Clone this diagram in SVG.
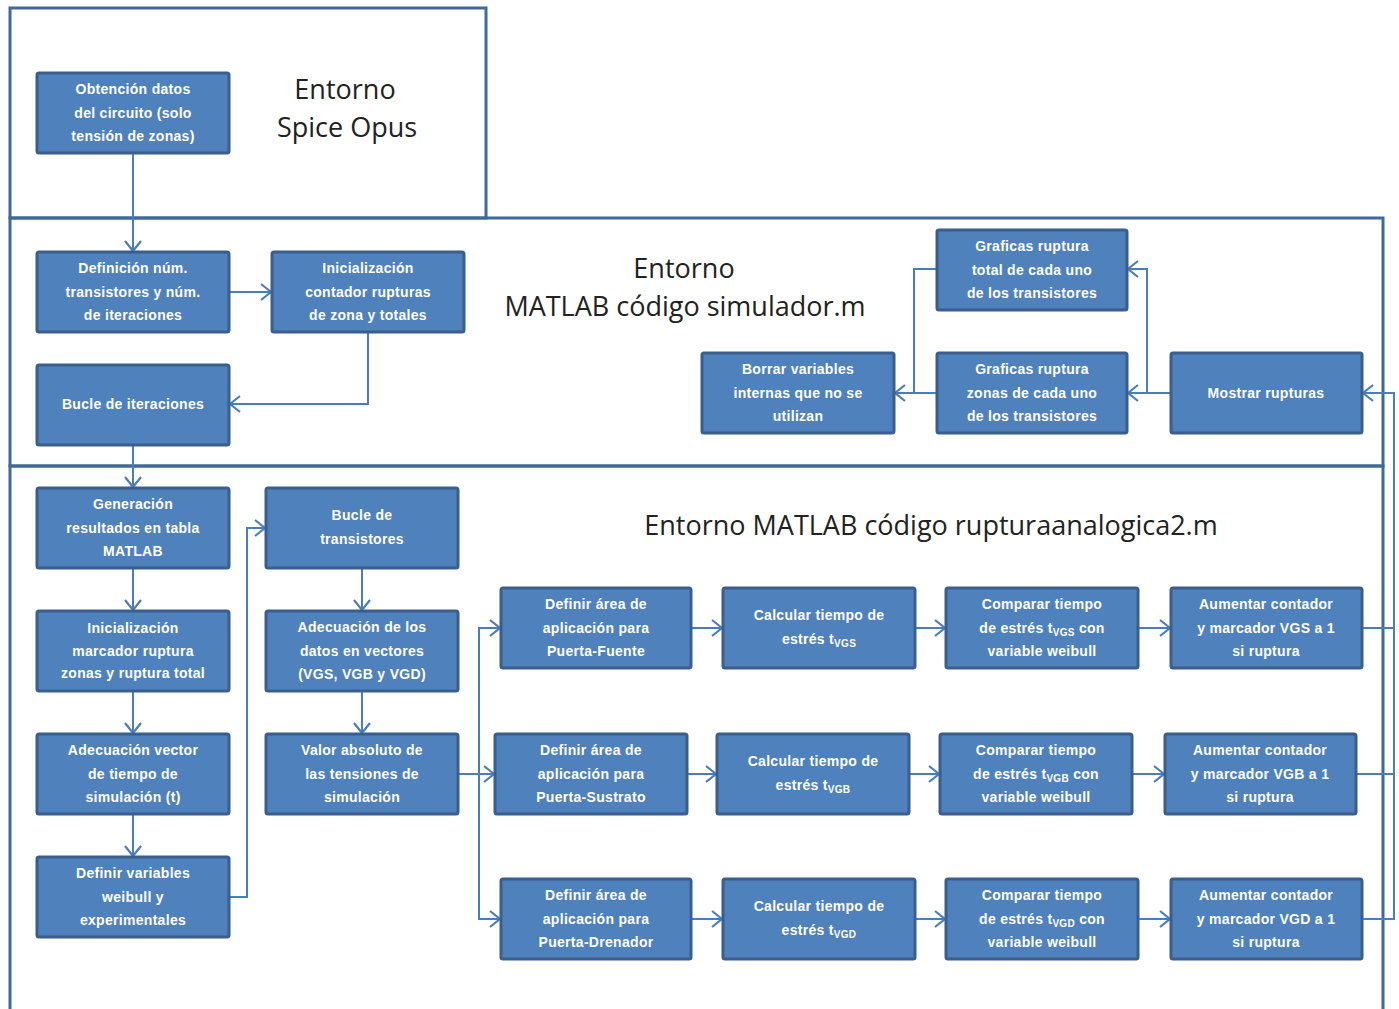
<svg xmlns="http://www.w3.org/2000/svg" width="1399" height="1009" viewBox="0 0 1399 1009">
<defs>
<marker id="ah" markerUnits="userSpaceOnUse" markerWidth="14" markerHeight="20" refX="11" refY="9" orient="auto">
<path d="M1,1 L11,9 L1,17" fill="none" stroke="#4a7ebb" stroke-width="2.2"/>
</marker>
<style>
.frame{fill:none;stroke:#41689a;stroke-width:3}
.box{fill:#4f81bd;stroke:#3a5f8e;stroke-width:3}
.c{fill:none;stroke:#4a7ebb;stroke-width:2}
.a{marker-end:url(#ah)}
.t{fill:#ffffff;font-family:"Liberation Sans",Arial,sans-serif;font-size:14px;font-weight:bold;text-anchor:middle;letter-spacing:0.3px}
.s{font-size:10px}
.h{fill:#222222;font-family:"Open Sans","Liberation Sans",sans-serif;font-size:27px;text-anchor:middle}
</style>
</defs>
<rect width="1399" height="1009" fill="#ffffff"/>
<g id="frames">
<rect class="frame" x="10" y="8" width="476" height="210"/>
<rect class="frame" x="10" y="218" width="1373" height="248"/>
<path class="frame" d="M10,1012 V466 H1383 V1012"/>
<text class="h" x="345" y="99">Entorno</text>
<text class="h" x="347" y="137">Spice Opus</text>
<text class="h" x="684" y="278">Entorno</text>
<text class="h" x="685" y="316">MATLAB código simulador.m</text>
<text class="h" x="931" y="535">Entorno MATLAB código rupturaanalogica2.m</text>
</g>
<g id="connectors">
<path class="c a" d="M133,153 V251"/>
<path class="c a" d="M229,292 H271"/>
<path class="c a" d="M368,332 V404 H230"/>
<path class="c a" d="M133,445 V487"/>
<path class="c a" d="M133,568 V610"/>
<path class="c a" d="M133,691 V733"/>
<path class="c a" d="M133,814 V856"/>
<path class="c a" d="M229,897 H247 V528 H265"/>
<path class="c a" d="M362,568 V610"/>
<path class="c a" d="M362,691 V733"/>
<path class="c a" d="M458,774 H494"/>
<path class="c a" d="M479,774 V628 H500"/>
<path class="c a" d="M479,774 V919 H500"/>
<path class="c a" d="M691,628 H722"/>
<path class="c a" d="M915,628 H945"/>
<path class="c a" d="M1138,628 H1170"/>
<path class="c a" d="M687,774 H716"/>
<path class="c a" d="M909,774 H939"/>
<path class="c a" d="M1132,774 H1164"/>
<path class="c a" d="M691,919 H722"/>
<path class="c a" d="M915,919 H945"/>
<path class="c a" d="M1138,919 H1170"/>
<path class="c" d="M1362,628 H1394"/>
<path class="c" d="M1356,774 H1394"/>
<path class="c a" d="M1362,919 H1394 V393 H1363"/>
<path class="c a" d="M1171,393 H1128"/>
<path class="c a" d="M1147,393 V269 H1128"/>
<path class="c a" d="M937,393 H895"/>
<path class="c" d="M937,269 H914 V393"/>
</g>
<g id="n-obtencion"><rect class="box" x="37" y="73" width="192" height="80" rx="2"/>
<text class="t" x="133" y="94">Obtención datos</text><text class="t" x="133" y="118">del circuito (solo</text><text class="t" x="133" y="141">tensión de zonas)</text></g>
<g id="n-definicion"><rect class="box" x="37" y="252" width="192" height="80" rx="2"/>
<text class="t" x="133" y="273">Definición núm.</text><text class="t" x="133" y="297">transistores y núm.</text><text class="t" x="133" y="320">de iteraciones</text></g>
<g id="n-inicontador"><rect class="box" x="272" y="252" width="192" height="80" rx="2"/>
<text class="t" x="368" y="273">Inicialización</text><text class="t" x="368" y="297">contador rupturas</text><text class="t" x="368" y="320">de zona y totales</text></g>
<g id="n-bucleiter"><rect class="box" x="37" y="365" width="192" height="80" rx="2"/>
<text class="t" x="133" y="409">Bucle de iteraciones</text></g>
<g id="n-borrar"><rect class="box" x="702" y="353" width="192" height="80" rx="2"/>
<text class="t" x="798" y="374">Borrar variables</text><text class="t" x="798" y="398">internas que no se</text><text class="t" x="798" y="421">utilizan</text></g>
<g id="n-graftotal"><rect class="box" x="937" y="230" width="190" height="80" rx="2"/>
<text class="t" x="1032" y="251">Graficas ruptura</text><text class="t" x="1032" y="275">total de cada uno</text><text class="t" x="1032" y="298">de los transistores</text></g>
<g id="n-grafzonas"><rect class="box" x="937" y="353" width="190" height="80" rx="2"/>
<text class="t" x="1032" y="374">Graficas ruptura</text><text class="t" x="1032" y="398">zonas de cada uno</text><text class="t" x="1032" y="421">de los transistores</text></g>
<g id="n-mostrar"><rect class="box" x="1171" y="353" width="191" height="80" rx="2"/>
<text class="t" x="1266" y="398">Mostrar rupturas</text></g>
<g id="n-generacion"><rect class="box" x="37" y="488" width="192" height="80" rx="2"/>
<text class="t" x="133" y="509">Generación</text><text class="t" x="133" y="533">resultados en tabla</text><text class="t" x="133" y="556">MATLAB</text></g>
<g id="n-bucletrans"><rect class="box" x="266" y="488" width="192" height="80" rx="2"/>
<text class="t" x="362" y="520">Bucle de</text><text class="t" x="362" y="544">transistores</text></g>
<g id="n-inimarcador"><rect class="box" x="37" y="611" width="192" height="80" rx="2"/>
<text class="t" x="133" y="633">Inicialización</text><text class="t" x="133" y="656">marcador ruptura</text><text class="t" x="133" y="678">zonas y ruptura total</text></g>
<g id="n-adecdatos"><rect class="box" x="266" y="611" width="192" height="80" rx="2"/>
<text class="t" x="362" y="632">Adecuación de los</text><text class="t" x="362" y="656">datos en vectores</text><text class="t" x="362" y="679">(VGS, VGB y VGD)</text></g>
<g id="n-adecvector"><rect class="box" x="37" y="734" width="192" height="80" rx="2"/>
<text class="t" x="133" y="755">Adecuación vector</text><text class="t" x="133" y="779">de tiempo de</text><text class="t" x="133" y="802">simulación (t)</text></g>
<g id="n-valorabs"><rect class="box" x="266" y="734" width="192" height="80" rx="2"/>
<text class="t" x="362" y="755">Valor absoluto  de</text><text class="t" x="362" y="779">las tensiones de</text><text class="t" x="362" y="802">simulación</text></g>
<g id="n-weibull"><rect class="box" x="37" y="857" width="192" height="80" rx="2"/>
<text class="t" x="133" y="878">Definir variables</text><text class="t" x="133" y="902">weibull y</text><text class="t" x="133" y="925">experimentales</text></g>
<g id="n-areapf"><rect class="box" x="501" y="588" width="190" height="80" rx="2"/>
<text class="t" x="596" y="609">Definir área de</text><text class="t" x="596" y="633">aplicación para</text><text class="t" x="596" y="656">Puerta-Fuente</text></g>
<g id="n-calcvgs"><rect class="box" x="723" y="588" width="192" height="80" rx="2"/>
<text class="t" x="819" y="620">Calcular tiempo de</text><text class="t" x="819" y="644">estrés t<tspan class="s" dy="3">VGS</tspan></text></g>
<g id="n-compvgs"><rect class="box" x="946" y="588" width="192" height="80" rx="2"/>
<text class="t" x="1042" y="609">Comparar tiempo</text><text class="t" x="1042" y="633">de estrés t<tspan class="s" dy="3">VGS</tspan><tspan dy="-3"> con</tspan></text><text class="t" x="1042" y="656">variable weibull</text></g>
<g id="n-aumvgs"><rect class="box" x="1171" y="588" width="191" height="80" rx="2"/>
<text class="t" x="1266" y="609">Aumentar contador</text><text class="t" x="1266" y="633">y marcador VGS  a 1</text><text class="t" x="1266" y="656">si ruptura</text></g>
<g id="n-areaps"><rect class="box" x="495" y="734" width="192" height="80" rx="2"/>
<text class="t" x="591" y="755">Definir área de</text><text class="t" x="591" y="779">aplicación para</text><text class="t" x="591" y="802">Puerta-Sustrato</text></g>
<g id="n-calcvgb"><rect class="box" x="717" y="734" width="192" height="80" rx="2"/>
<text class="t" x="813" y="766">Calcular tiempo de</text><text class="t" x="813" y="790">estrés t<tspan class="s" dy="3">VGB</tspan></text></g>
<g id="n-compvgb"><rect class="box" x="940" y="734" width="192" height="80" rx="2"/>
<text class="t" x="1036" y="755">Comparar tiempo</text><text class="t" x="1036" y="779">de estrés t<tspan class="s" dy="3">VGB</tspan><tspan dy="-3"> con</tspan></text><text class="t" x="1036" y="802">variable weibull</text></g>
<g id="n-aumvgb"><rect class="box" x="1165" y="734" width="191" height="80" rx="2"/>
<text class="t" x="1260" y="755">Aumentar contador</text><text class="t" x="1260" y="779">y marcador VGB  a 1</text><text class="t" x="1260" y="802">si ruptura</text></g>
<g id="n-areapd"><rect class="box" x="501" y="879" width="190" height="80" rx="2"/>
<text class="t" x="596" y="900">Definir área de</text><text class="t" x="596" y="924">aplicación para</text><text class="t" x="596" y="947">Puerta-Drenador</text></g>
<g id="n-calcvgd"><rect class="box" x="723" y="879" width="192" height="80" rx="2"/>
<text class="t" x="819" y="911">Calcular tiempo de</text><text class="t" x="819" y="935">estrés t<tspan class="s" dy="3">VGD</tspan></text></g>
<g id="n-compvgd"><rect class="box" x="946" y="879" width="192" height="80" rx="2"/>
<text class="t" x="1042" y="900">Comparar tiempo</text><text class="t" x="1042" y="924">de estrés t<tspan class="s" dy="3">VGD</tspan><tspan dy="-3"> con</tspan></text><text class="t" x="1042" y="947">variable weibull</text></g>
<g id="n-aumvgd"><rect class="box" x="1171" y="879" width="191" height="80" rx="2"/>
<text class="t" x="1266" y="900">Aumentar contador</text><text class="t" x="1266" y="924">y marcador VGD  a 1</text><text class="t" x="1266" y="947">si ruptura</text></g>
</svg>
